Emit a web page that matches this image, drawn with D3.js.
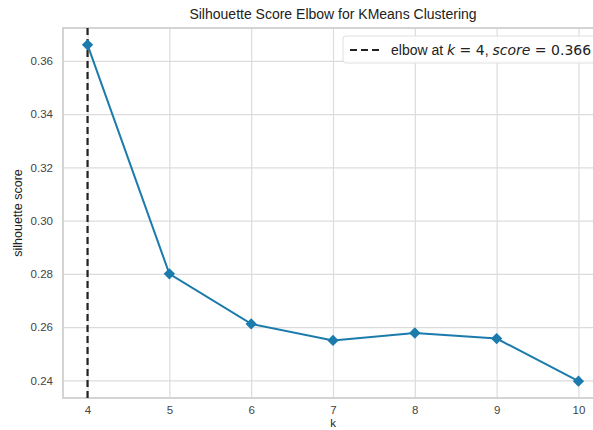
<!DOCTYPE html>
<html>
<head>
<meta charset="utf-8">
<script src="https://cdn.jsdelivr.net/npm/d3@7"></script>
<style>
  body { margin: 0; background: #fff; }
  text { font-family: "Liberation Sans", Arial, sans-serif; }
</style>
</head>
<body>
<div id="chart"></div>
<script>
const width = 593;
const height = 430;
const margin = { top: 28, right: -10, bottom: 32, left: 63 };

// data
const ks = [4, 5, 6, 7, 8, 9, 10];
const scores = [0.366, 0.280, 0.2612, 0.2550, 0.2578, 0.2557, 0.2397];
const elbowK = 4;
const elbowScore = 0.366;
const yTicks = [0.24, 0.26, 0.28, 0.30, 0.32, 0.34, 0.36];

const data = ks.map((k, i) => ({ k: k, score: scores[i] }));

const lineColor = "#1a7bac";
const mathFont = "DejaVu Sans, sans-serif";

// scales, matplotlib style 5% padding
const xPad = (d3.max(ks) - d3.min(ks)) * 0.05;
const yPad = (d3.max(scores) - d3.min(scores)) * 0.05;

const xScale = d3.scaleLinear()
  .domain([d3.min(ks) - xPad, d3.max(ks) + xPad])
  .range([margin.left, width - margin.right]);

const yScale = d3.scaleLinear()
  .domain([d3.min(scores) - yPad, d3.max(scores) + yPad])
  .range([height - margin.bottom, margin.top]);

const svg = d3.select("#chart")
  .append("svg")
  .attr("width", width)
  .attr("height", height);

const x0 = margin.left, x1 = width - margin.right;
const y0 = height - margin.bottom, y1 = margin.top;

// grid
svg.append("g")
  .attr("transform", `translate(0,${y0})`)
  .call(d3.axisBottom(xScale).tickValues(ks).tickSize(-(y0 - y1)).tickFormat(d3.format("d")).tickPadding(8))
  .call(g => g.select(".domain").remove())
  .call(g => g.selectAll("line").attr("stroke", "#dcdcdc").attr("stroke-width", 1.2))
  .call(g => g.selectAll("text").attr("fill", "#444").attr("font-size", 11.5));

svg.append("g")
  .attr("transform", `translate(${x0},0)`)
  .call(d3.axisLeft(yScale).tickValues(yTicks).tickSize(-(x1 - x0)).tickFormat(d3.format(".2f")).tickPadding(10))
  .call(g => g.select(".domain").remove())
  .call(g => g.selectAll("line").attr("stroke", "#dcdcdc").attr("stroke-width", 1.2))
  .call(g => g.selectAll("text").attr("fill", "#444").attr("font-size", 11.5));

// spines
svg.append("rect")
  .attr("x", x0).attr("y", y1)
  .attr("width", x1 - x0).attr("height", y0 - y1)
  .attr("fill", "none")
  .attr("stroke", "#d0d0d0")
  .attr("stroke-width", 1.8);

// elbow line
svg.append("line")
  .attr("x1", xScale(elbowK)).attr("x2", xScale(elbowK))
  .attr("y1", y1).attr("y2", y0)
  .attr("stroke", "#222")
  .attr("stroke-width", 2.2)
  .attr("stroke-dasharray", "7,4");

// score line
const line = d3.line()
  .x(d => xScale(d.k))
  .y(d => yScale(d.score));

svg.append("path")
  .datum(data)
  .attr("d", line)
  .attr("fill", "none")
  .attr("stroke", lineColor)
  .attr("stroke-width", 2);

svg.selectAll("path.marker")
  .data(data)
  .join("path")
  .attr("class", "marker")
  .attr("d", d3.symbol(d3.symbolSquare, 64))
  .attr("transform", d => `translate(${xScale(d.k)},${yScale(d.score)}) rotate(45)`)
  .attr("fill", lineColor);

// title and labels
svg.append("text")
  .attr("x", (x0 + x1) / 2)
  .attr("y", 19)
  .attr("text-anchor", "middle")
  .attr("font-size", 14)
  .attr("fill", "#222")
  .text("Silhouette Score Elbow for KMeans Clustering");

svg.append("text")
  .attr("x", (x0 + x1) / 2)
  .attr("y", 427)
  .attr("text-anchor", "middle")
  .attr("font-size", 11.5)
  .attr("fill", "#222")
  .text("k");

svg.append("text")
  .attr("transform", `translate(22,${(y0 + y1) / 2}) rotate(-90)`)
  .attr("text-anchor", "middle")
  .attr("font-size", 12.5)
  .attr("fill", "#222")
  .text("silhouette score");

// legend
const legend = svg.append("g").attr("transform", "translate(343,36)");
legend.append("rect")
  .attr("width", 262).attr("height", 27)
  .attr("rx", 3)
  .attr("fill", "#fff")
  .attr("fill-opacity", 0.85)
  .attr("stroke", "#e0e0e0");
legend.append("line")
  .attr("x1", 7).attr("x2", 36)
  .attr("y1", 14).attr("y2", 14)
  .attr("stroke", "#222")
  .attr("stroke-width", 2.2)
  .attr("stroke-dasharray", "7,4");
const lt = legend.append("text")
  .attr("x", 48).attr("y", 18.5)
  .attr("font-size", 14)
  .attr("fill", "#222");
lt.append("tspan").text("elbow at ");
lt.append("tspan").attr("font-family", mathFont).attr("font-style", "italic").text("k");
lt.append("tspan").attr("font-family", mathFont).text(` = ${elbowK}`);
lt.append("tspan").text(", ");
lt.append("tspan").attr("font-family", mathFont).attr("font-style", "italic").text("score");
lt.append("tspan").attr("font-family", mathFont).text(` = ${elbowScore}`);
</script>
</body>
</html>
